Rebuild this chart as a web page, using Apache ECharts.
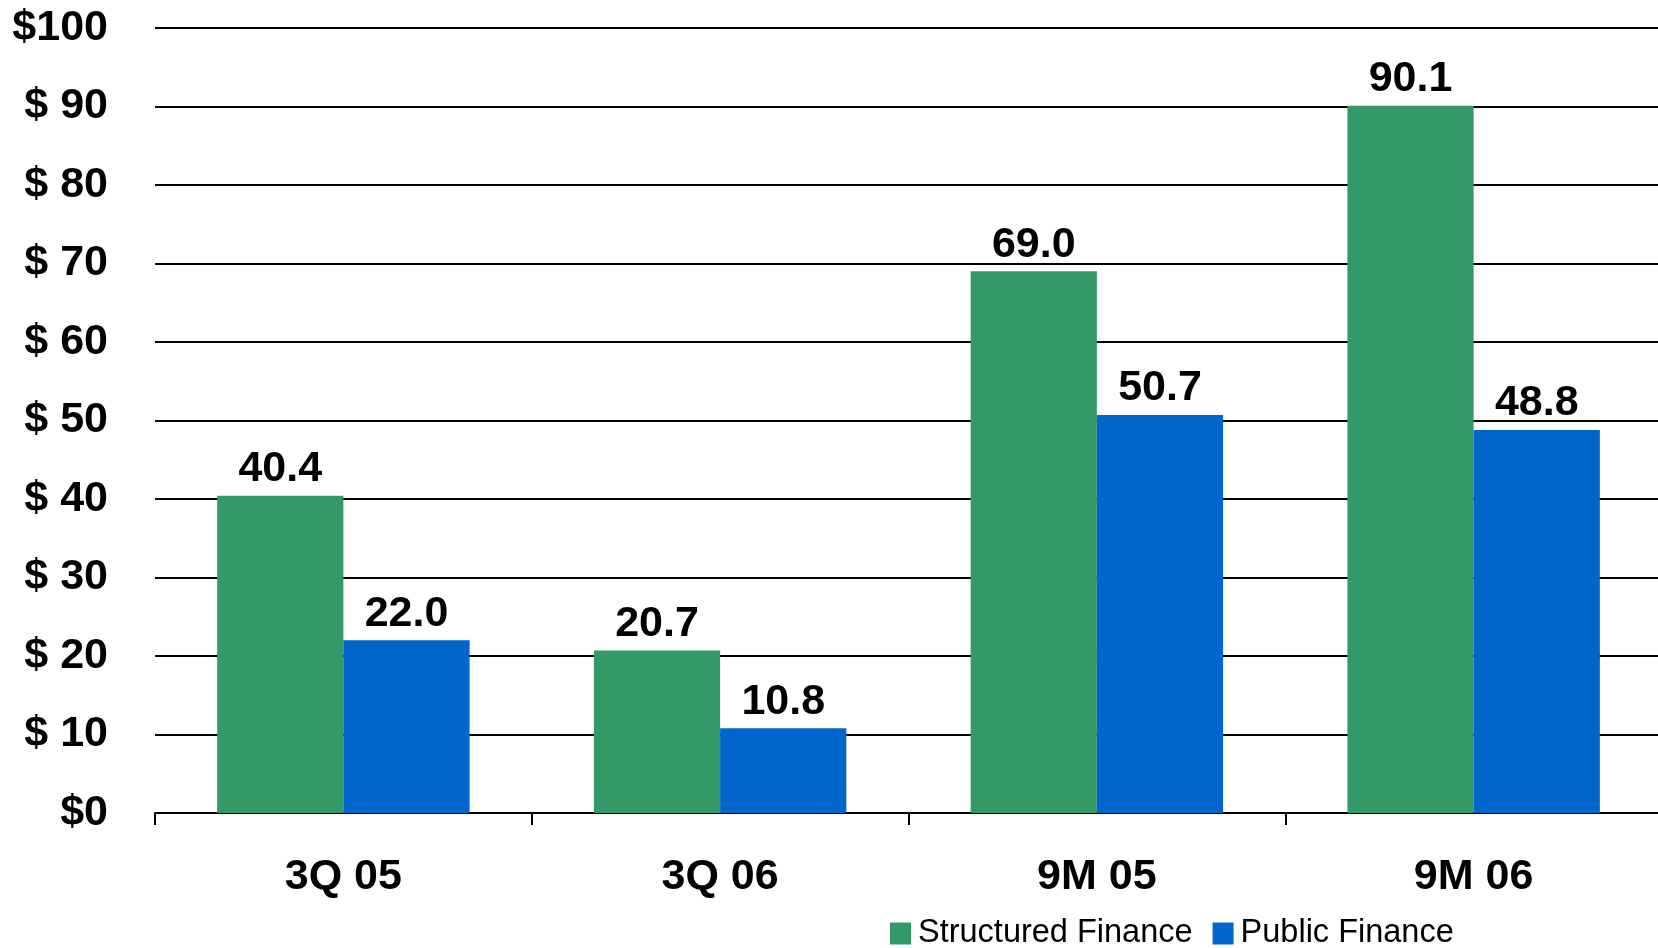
<!DOCTYPE html>
<html>
<head>
<meta charset="utf-8">
<script src="https://cdn.jsdelivr.net/npm/echarts@6/dist/echarts.min.js"></script>
<style>
  html, body { margin: 0; padding: 0; background: #fff; }
  #chart { width: 1658px; height: 948px; }
</style>
</head>
<body>
<div id="chart"></div>
<script>
// Periods shown on the category axis
const categories = ['3Q 05', '3Q 06', '9M 05', '9M 06'];
// Values in $ (billions)
const structuredFinance = [40.4, 20.7, 69.0, 90.1];
const publicFinance = [22.0, 10.8, 50.7, 48.8];
// Value axis ticks
const yTicks = [0, 10, 20, 30, 40, 50, 60, 70, 80, 90, 100];

const FONT = '"Liberation Sans", Arial, Helvetica, sans-serif';

function yLabel(v) {
  if (v === 0) return '$0';
  if (v === 100) return '$100';
  return '$ ' + v;
}

const chart = echarts.init(document.getElementById('chart'), null, { renderer: 'canvas' });

const labelStyle = {
  show: true,
  position: 'top',
  distance: 5,
  color: '#000',
  fontFamily: FONT,
  fontWeight: 'bold',
  fontSize: 43,
  formatter: p => p.value.toFixed(1)
};

chart.setOption({
  animation: false,
  backgroundColor: '#ffffff',
  // plot area runs slightly past the right edge of the canvas
  grid: {
    left: 155, width: 1507, top: 28, bottom: 135,
    containLabel: false,
    outerBoundsMode: 'none'
  },
  legend: {
    left: 890,
    top: 917,
    itemWidth: 21,
    itemHeight: 22,
    itemGap: 20,
    icon: 'rect',
    padding: 0,
    textStyle: { fontFamily: FONT, fontSize: 32.5, color: '#000', padding: [0, 0, 0, 2] },
    data: ['Structured Finance', 'Public Finance']
  },
  xAxis: {
    type: 'category',
    data: categories,
    axisLine: { show: true, lineStyle: { color: '#000', width: 2 } },
    axisTick: { show: true, length: 12, lineStyle: { color: '#000', width: 2 } },
    axisLabel: {
      margin: 43,
      color: '#000',
      fontFamily: FONT,
      fontWeight: 'bold',
      fontSize: 43
    }
  },
  yAxis: {
    type: 'value',
    min: yTicks[0],
    max: yTicks[yTicks.length - 1],
    interval: yTicks[1] - yTicks[0],
    axisLine: { show: false },
    axisTick: { show: false },
    splitLine: { show: true, lineStyle: { color: '#000', width: 2 } },
    axisLabel: {
      margin: 47,
      color: '#000',
      fontFamily: FONT,
      fontWeight: 'bold',
      fontSize: 43,
      formatter: yLabel
    }
  },
  series: [
    {
      name: 'Structured Finance',
      type: 'bar',
      data: structuredFinance,
      barGap: '0%',
      barCategoryGap: '33%',
      itemStyle: { color: '#339966' },
      label: labelStyle
    },
    {
      name: 'Public Finance',
      type: 'bar',
      data: publicFinance,
      itemStyle: { color: '#0066CC' },
      label: labelStyle
    }
  ]
});
</script>
</body>
</html>
